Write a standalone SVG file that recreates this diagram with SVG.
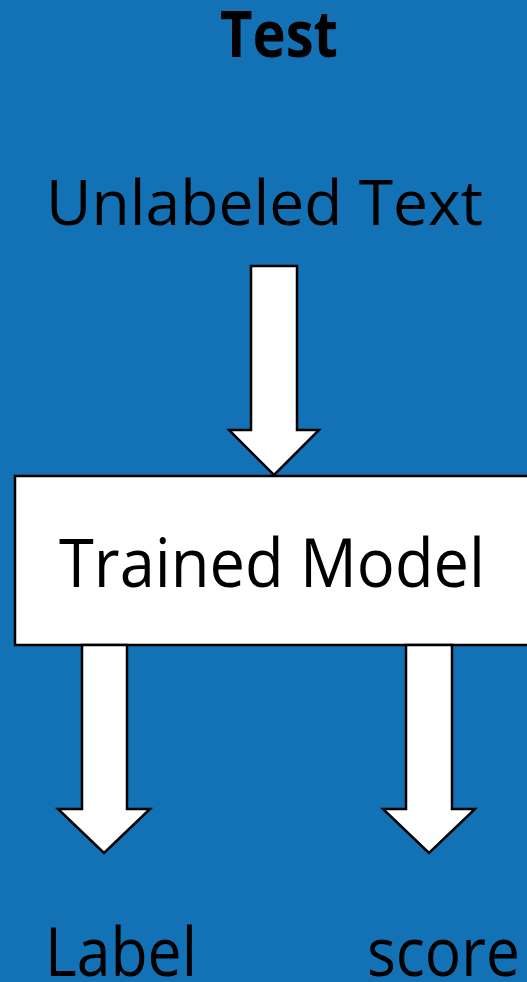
<svg xmlns="http://www.w3.org/2000/svg" width="527" height="982" viewBox="0 0 527 982">
<style>
.t{font-family:"Open Sans","Noto Sans","Liberation Sans",sans-serif;fill:#000}
.a{fill:#fff;stroke:#000;stroke-width:2.5;stroke-linejoin:miter}
</style>
<rect x="0" y="0" width="527" height="982" fill="#1372B6"/>
<g id="title"><text class="t" x="220" y="57" font-size="64" font-weight="bold" textLength="118" lengthAdjust="spacingAndGlyphs">Test</text></g>
<g id="unlabeled"><text class="t" x="46" y="225" font-size="63" textLength="437" lengthAdjust="spacingAndGlyphs">Unlabeled Text</text></g>
<g id="model">
<rect x="15" y="476" width="520" height="169" fill="#fff" stroke="#000" stroke-width="2.5"/>
<text class="t" x="59" y="587" font-size="68" textLength="426" lengthAdjust="spacingAndGlyphs">Trained Model</text>
</g>
<g id="label"><text class="t" x="45" y="976" font-size="67" textLength="152" lengthAdjust="spacingAndGlyphs">Label</text></g>
<g id="score"><text class="t" x="367" y="976" font-size="67" textLength="153" lengthAdjust="spacingAndGlyphs">score</text></g>
<g id="connectors">
<polygon class="a" points="251,266 297,266 297,430 319,430 274,475 229,430 251,430"/>
<polygon class="a" points="82,645 127,645 127,809 150,809 104,853 58,809 82,809"/>
<polygon class="a" points="406,645 452,645 452,809 475,809 429,853 383,809 406,809"/>
</g>
</svg>
